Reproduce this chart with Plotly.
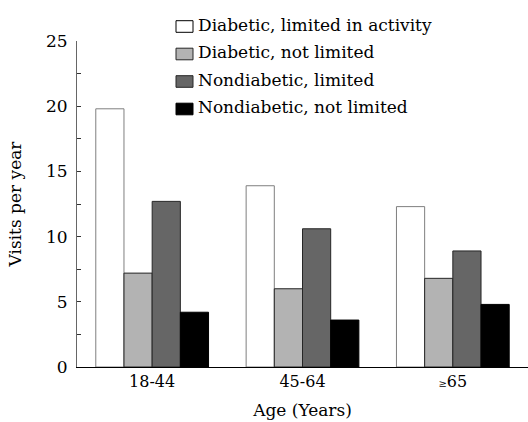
import plotly.graph_objects as go

age_groups = ["18-44", "45-64", "≥65"]
age_labels = ["18-44", "45-64", "<span style='font-size:10px'>≥</span>65"]

series_names = [
    "Diabetic, limited in activity",
    "Diabetic, not limited",
    "Nondiabetic, limited",
    "Nondiabetic, not limited",
]
diabetic_limited = [19.8, 13.9, 12.3]
diabetic_not_limited = [7.2, 6.0, 6.8]
nondiabetic_limited = [12.7, 10.6, 8.9]
nondiabetic_not_limited = [4.2, 3.6, 4.8]

series_values = [diabetic_limited, diabetic_not_limited,
                 nondiabetic_limited, nondiabetic_not_limited]
fill_colors = ["#ffffff", "#b3b3b3", "#666666", "#000000"]
edge_colors = ["#7f7f7f", "#262626", "#262626", "#000000"]

FONT = "DejaVu Serif"
W, H = 528, 422
M = dict(l=77, r=0, t=41, b=55)


def px_x(px):
    return (px - M["l"]) / (W - M["l"] - M["r"])


def px_y(py):
    return (H - M["b"] - py) / (H - M["t"] - M["b"])


fig = go.Figure()
for name, vals, fc, ec in zip(series_names, series_values, fill_colors, edge_colors):
    fig.add_trace(go.Bar(
        x=age_groups, y=vals, name=name, showlegend=False,
        marker=dict(color=fc, line=dict(color=ec, width=1)),
    ))

# key: small swatches with labels stacked above the bars
shapes, annotations = [], []
row_top = 20.7
row_step = 27.5
for i, (name, fc, ec) in enumerate(zip(series_names, fill_colors, edge_colors)):
    top = row_top + i * row_step
    shapes.append(dict(
        type="rect", xref="paper", yref="paper",
        x0=px_x(176), x1=px_x(193), y0=px_y(top + 11.6), y1=px_y(top),
        fillcolor=fc, line=dict(color="#000000" if i == 0 else ec, width=1),
    ))
    annotations.append(dict(
        text=name, xref="paper", yref="paper",
        x=px_x(196), y=px_y(top + 4), xanchor="left", yanchor="middle",
        showarrow=False, font=dict(family=FONT, size=17, color="black"),
    ))

fig.update_layout(
    width=W, height=H,
    margin=M,
    paper_bgcolor="white", plot_bgcolor="white",
    barmode="group", bargap=0.25, bargroupgap=0,
    font=dict(family=FONT, size=17, color="black"),
    shapes=shapes, annotations=annotations,
    xaxis=dict(
        range=[-0.5, 2.5], tickmode="array", tickvals=age_groups, ticktext=age_labels,
        showline=True, linecolor="black", linewidth=1, ticks="",
        showgrid=False, zeroline=False,
        tickfont=dict(family=FONT, size=16),
        title=dict(text="Age (Years)", font=dict(family=FONT, size=17), standoff=13),
    ),
    yaxis=dict(
        range=[0, 25], dtick=5, tick0=0,
        showline=True, linecolor="#666666", linewidth=1,
        ticks="inside", ticklen=4, tickcolor="#333333",
        minor=dict(dtick=2.5, ticks="inside", ticklen=4, tickcolor="#333333"),
        showgrid=False, zeroline=False,
        tickfont=dict(family=FONT, size=17),
        ticklabelstandoff=5,
        title=dict(text="Visits per year", font=dict(family=FONT, size=17), standoff=20),
    ),
)

fig.write_html("out.html")
